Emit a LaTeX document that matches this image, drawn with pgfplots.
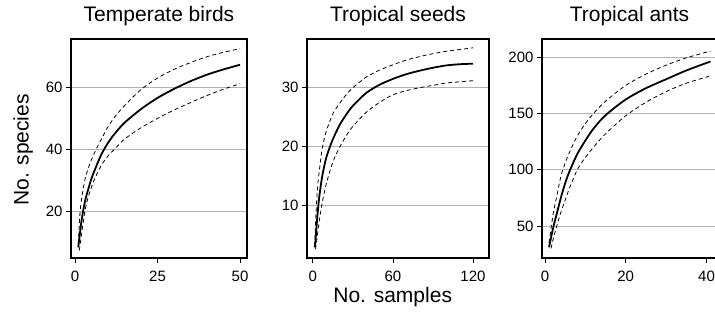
\documentclass[border=0pt]{standalone}
\usepackage{pgfplots}
\pgfplotsset{compat=1.18}
\usepackage{fontspec}
\setmainfont{Liberation Sans}
\begin{document}
\begin{tikzpicture}[x=1pt,y=1pt]
\useasboundingbox (0,0) rectangle (715,321);
\pgfplotsset{
  panel/.style={
    scale only axis, anchor=south west, height=219pt,
    tick align=outside, tick pos=left, major tick length=5pt,
    ymajorgrids, major grid style={gray!60, line width=0.7pt},
    axis line style={line width=1.3pt},
    tick style={black, line width=0.7pt},
    tick label style={font=\fontsize{15}{18}\selectfont},
    xticklabel style={yshift=-4pt},
    /pgf/number format/assume math mode=true,
    title style={font=\fontsize{21}{25}\selectfont, at={(0.5,1)}, anchor=base, yshift=11.5pt},
  },
  mid/.style={black, line width=1.8pt, smooth, no markers},
  ci/.style={black, line width=0.8pt, dash pattern=on 4pt off 3pt, smooth, no markers},
}
% Panel 1
\begin{axis}[panel, at={(71pt,63pt)}, width=176pt,
  xmin=-1.2, xmax=52.1, ymin=4.9, ymax=75.5,
  xtick={0,25,50}, ytick={20,40,60}, title={Temperate birds}]
\addplot[ci] coordinates {(1,9.5)(1.5,19)(2,24)(3,30)(4,33.8)(5,36.6)(6,39)(7,41.2)(8,43.2)(10,47.2)(12,50.3)(15,54)(20,59.2)(25,62.9)(30,65.7)(35,67.9)(40,69.8)(45,71.2)(50,72.4)};
\addplot[ci] coordinates {(1.3,7.3)(2,12.5)(3,20)(4,24.5)(5,27.8)(6,30.5)(8,34.8)(10,37.8)(12,40)(15,43.2)(20,46.9)(25,49.9)(30,52.6)(35,55)(40,57.3)(45,59.3)(50,61.1)};
\addplot[mid] coordinates {(1,8.3)(2,17)(3,23)(4,27)(5,30.5)(6,33.3)(8,38.3)(10,42)(12,44.9)(15,48.5)(20,52.9)(25,56.5)(30,59.4)(35,61.9)(40,64)(45,65.7)(50,67.2)};
\end{axis}
% Panel 2
\begin{axis}[panel, at={(307pt,63pt)}, width=182pt,
  xmin=-4.3, xmax=132, ymin=1.0, ymax=38.3,
  xtick={0,60,120}, ytick={10,20,30}, title={Tropical seeds}]
\addplot[ci] coordinates {(1.5,3)(2,6.5)(3,11)(4,14)(5,16)(7,19.5)(10,22.5)(15,25.5)(20,27.3)(25,28.8)(30,30)(40,31.8)(50,33)(60,33.9)(70,34.7)(80,35.3)(90,35.8)(100,36.2)(110,36.5)(120,36.8)};
\addplot[ci] coordinates {(2,2.5)(3,4)(4,5.8)(5,7.5)(7,10.3)(10,13.5)(15,17.3)(20,19.8)(25,21.8)(30,23.4)(40,25.8)(50,27.5)(60,28.8)(70,29.5)(80,30)(90,30.4)(100,30.8)(110,31)(120,31.2)};
\addplot[mid] coordinates {(1.5,2.8)(2,3.8)(3,6.8)(4,9.5)(5,11.6)(7,14.8)(10,18)(13,20)(15,21.2)(20,23.6)(25,25.4)(30,26.9)(40,29.1)(50,30.5)(60,31.5)(70,32.3)(80,32.9)(90,33.4)(100,33.8)(110,34)(120,34.1)};
\end{axis}
% Panel 3
\begin{axis}[panel, at={(542pt,63pt)}, width=175pt,
  xmin=-0.74, xmax=42.6, ymin=21.5, ymax=216.3,
  xtick={0,20,40}, ytick={50,100,150,200}, title={Tropical ants}]
\addplot[ci] coordinates {(1,35)(2,60)(3,78)(4,95)(5,106)(6,115)(8,130)(10,141)(12,150)(15,161)(20,175)(25,185)(30,193)(35,199.5)(41,205.6)};
\addplot[ci] coordinates {(1.5,30)(2,38)(3,51)(4,63)(5,73)(6,83)(8,100)(10,111)(12,120)(15,132)(20,148)(25,160)(30,169.5)(35,177)(41,183.5)};
\addplot[mid] coordinates {(1,31)(2,48)(3,62)(4,76)(5,88)(6,98)(8,114)(10,126)(12,136.5)(15,148.5)(20,162.5)(25,172.5)(30,180.5)(35,188.3)(41,196.3)};
\end{axis}
\node[rotate=90, anchor=base, font=\fontsize{21}{25}\selectfont] at (28.5,171) {No. species};
\node[anchor=base, font=\fontsize{21}{25}\selectfont] at (392.7,18) {No. samples};
\end{tikzpicture}
\end{document}
